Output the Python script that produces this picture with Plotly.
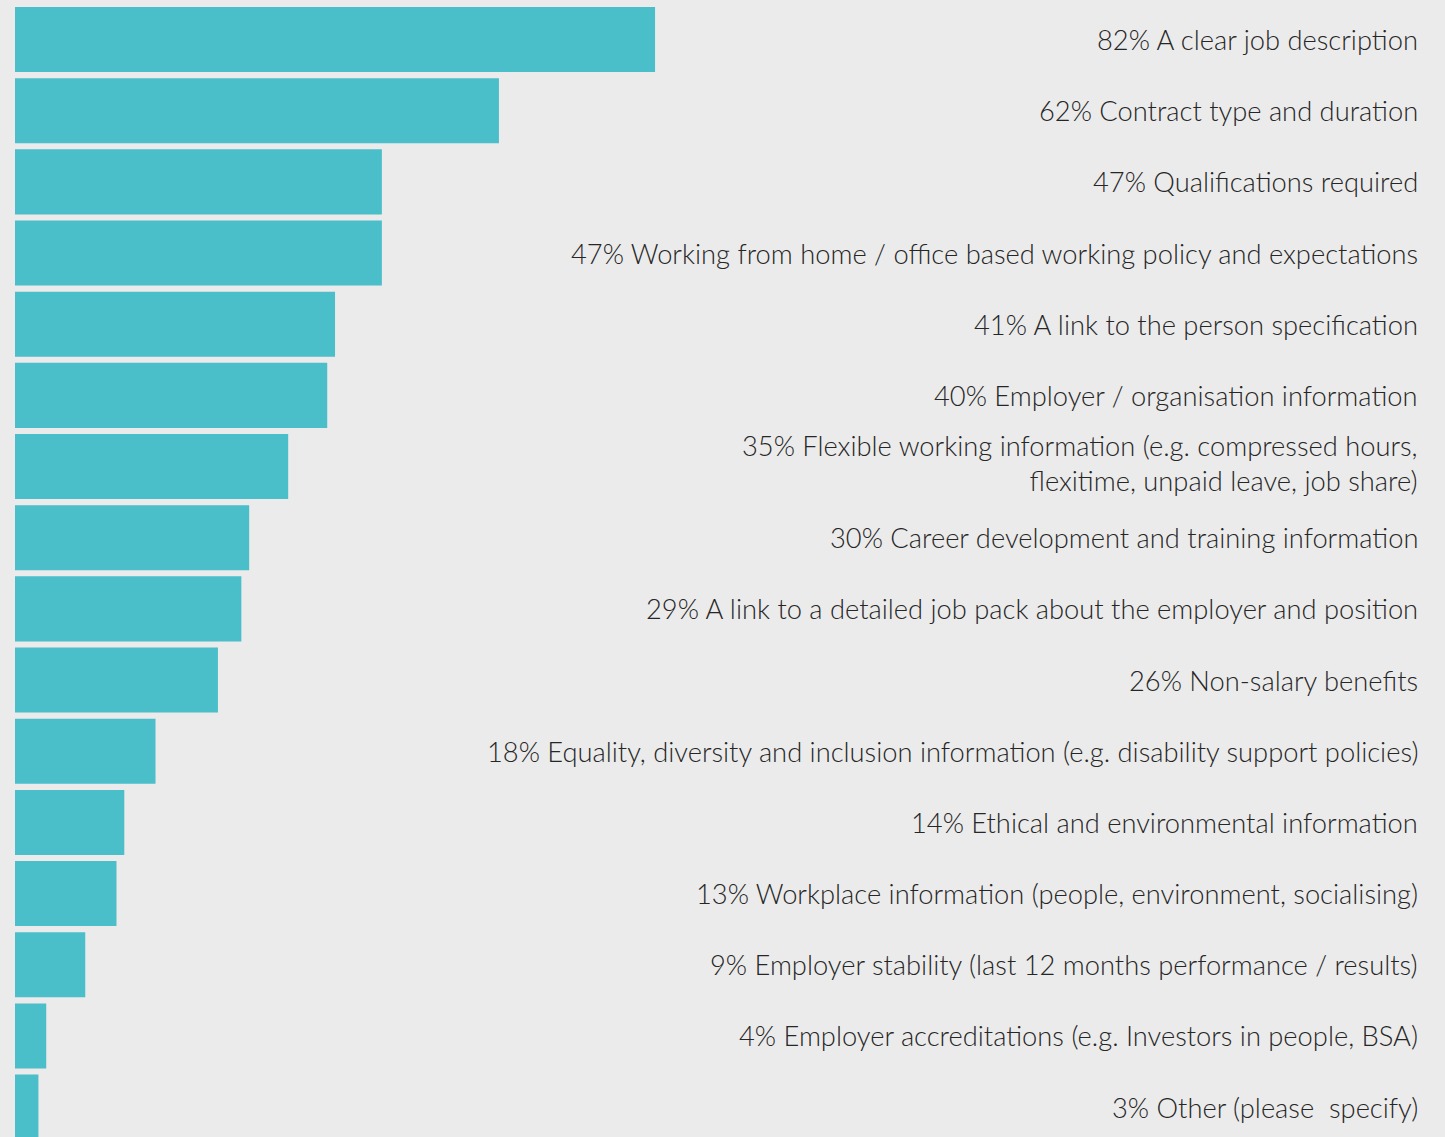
import plotly.graph_objects as go

# Share of respondents wanting each item in a job advert
categories = [
    "A clear job description",
    "Contract type and duration",
    "Qualifications required",
    "Working from home / office based working policy and expectations",
    "A link to the person specification",
    "Employer / organisation information",
    "Flexible working information (e.g. compressed hours,<br>flexitime, unpaid leave, job share)",
    "Career development and training information",
    "A link to a detailed job pack about the employer and position",
    "Non-salary benefits",
    "Equality, diversity and inclusion information (e.g. disability support policies)",
    "Ethical and environmental information",
    "Workplace information (people, environment, socialising)",
    "Employer stability (last 12 months performance / results)",
    "Employer accreditations (e.g. Investors in people, BSA)",
    "Other (please  specify)",
]
values = [82, 62, 47, 47, 41, 40, 35, 30, 29, 26, 18, 14, 13, 9, 4, 3]

BAR_COLOR = "#4abec9"
BG = "#ebebeb"
TEXT = "#262626"

positions = list(range(len(values)))

fig = go.Figure(
    go.Bar(
        x=values,
        y=positions,
        orientation="h",
        marker=dict(color=BAR_COLOR, line=dict(width=0)),
        hoverinfo="skip",
    )
)

# Right-aligned labels: value followed by category name
for pos, val, cat in zip(positions, values, categories):
    two_lines = "<br>" in cat
    fig.add_annotation(
        x=1, xref="paper", xanchor="right",
        y=pos, yref="y", yanchor="middle",
        yshift=4 if two_lines else 0,
        text=f"{val}% {cat}",
        showarrow=False, align="right",
        font=dict(family="Lato", size=27.3, color=TEXT, weight=300),
    )

fig.update_layout(
    width=1445, height=1137,
    margin=dict(l=15, r=25, t=0, b=0),
    paper_bgcolor=BG, plot_bgcolor=BG,
    bargap=0.086,
    showlegend=False,
    xaxis=dict(range=[0, 180.0], visible=False, fixedrange=True),
    yaxis=dict(range=[15.42, -0.555], visible=False, fixedrange=True),
)

fig.write_html("out.html")
